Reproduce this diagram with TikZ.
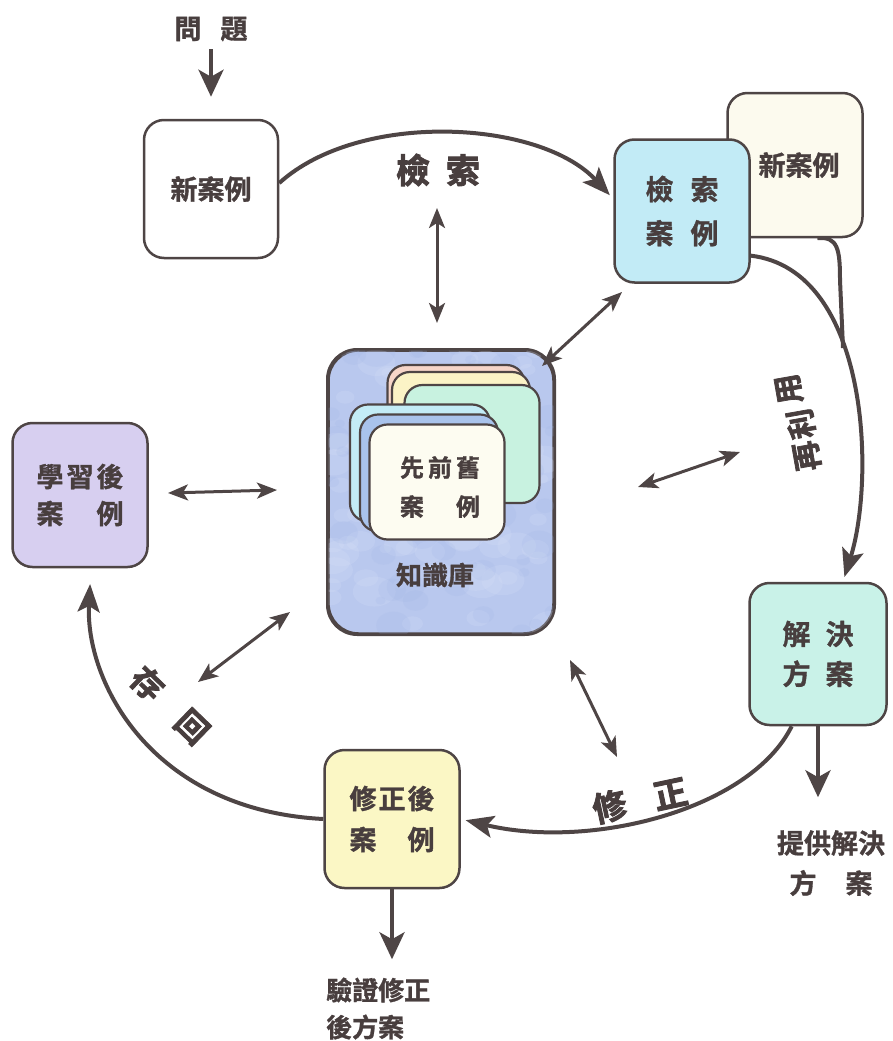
\documentclass[tikz,border=0pt]{standalone}
\usepackage{fontspec}
\newfontfamily\cjk{Noto Sans CJK TC Bold}[FakeBold=1.2]
\newfontfamily\cjkheavy{Noto Sans CJK TC Bold}[FakeBold=2.5]
\usetikzlibrary{arrows.meta}

\definecolor{ink}{HTML}{483E3E}
\definecolor{edge}{HTML}{4E4545}
\definecolor{newback}{HTML}{FCFAEE}
\definecolor{retrfill}{HTML}{C2EBF6}
\definecolor{solfill}{HTML}{C9F2E8}
\definecolor{revfill}{HTML}{FBF7C5}
\definecolor{learnfill}{HTML}{D7CFF0}
\definecolor{kbfill}{HTML}{B9C8EE}
\definecolor{kblight}{HTML}{D4DDF6}
\definecolor{kbdark}{HTML}{A4B8E6}
\definecolor{cardpink}{HTML}{F6D5C8}
\definecolor{cardyellow}{HTML}{FBF3C6}
\definecolor{cardgreen}{HTML}{C8F2E0}
\definecolor{cardcyan}{HTML}{C3ECF6}
\definecolor{cardblue}{HTML}{A9C3EC}
\definecolor{cardfront}{HTML}{FDFCF1}

\begin{document}
\begin{tikzpicture}[x=1pt,y=-1pt,
  casebox/.style={draw=edge, line width=2.5pt, rounded corners=20pt, inner sep=0pt,
    text=ink, align=center, font=\cjk\fontsize{27}{40}\selectfont},
  card/.style={draw=edge, line width=2.2pt, rounded corners=18pt, inner sep=0pt},
  flow/.style={draw=edge, line width=4pt, shorten >=5pt,
    -{Stealth[length=28pt,width=22pt,inset=6pt]}},
  outarrow/.style={draw=edge, line width=4pt, -{Stealth[length=27pt,width=25pt,inset=7pt]}},
  link/.style={draw=edge, line width=3pt,
    {Stealth[length=20pt,width=16pt,inset=5pt]}-{Stealth[length=20pt,width=16pt,inset=5pt]}},
  stage/.style={text=ink, inner sep=0pt, font=\cjkheavy\fontsize{34}{34}\selectfont},
  caption/.style={text=ink, inner sep=0pt, font=\cjk\fontsize{27}{27}\selectfont},
]
\useasboundingbox (0,0) rectangle (892,1041);

% ---- the five case boxes ----
\node[casebox, fill=white, minimum width=134pt, minimum height=138pt] (newL) at (211,189) {新案例};
\node[casebox, fill=newback, minimum width=135pt, minimum height=144pt] (newR) at (795,165) {\hspace{8pt}新案例};
\node[casebox, fill=retrfill, minimum width=135pt, minimum height=143pt, font=\cjk\fontsize{28}{44}\selectfont]
  (retr) at (682,211) {檢\hspace{17pt}索\\案\hspace{17pt}例};
\node[casebox, fill=learnfill, minimum width=135pt, minimum height=144pt, font=\cjk\fontsize{27}{37}\selectfont]
  (learn) at (80,495) {學\hspace{3pt}習\hspace{3pt}後\\案\hspace{33pt}例};
\node[casebox, fill=solfill, minimum width=137pt, minimum height=142pt, font=\cjk\fontsize{28}{40}\selectfont]
  (sol) at (818,654) {解\hspace{15pt}決\\方\hspace{15pt}案};
\node[casebox, fill=revfill, minimum width=135pt, minimum height=138pt, font=\cjk\fontsize{27}{41}\selectfont]
  (rev) at (392,819) {修\hspace{2pt}正\hspace{2pt}後\\案\hspace{31pt}例};

% ---- knowledge base with its stack of stored cases ----
\node[draw=edge, line width=2.5pt, rounded corners=30pt, minimum width=225pt, minimum height=283pt,
  fill=kbfill] (kb) at (441,492) {};
\begin{scope}
  \clip[rounded corners=30pt] (kb.south west) rectangle (kb.north east);
  \pgfmathsetseed{11}
  \foreach \i in {1,...,90} {
    \pgfmathsetmacro\xx{330+225*rnd}
    \pgfmathsetmacro\yy{350+283*rnd}
    \pgfmathsetmacro\ra{6+16*rnd}
    \fill[kblight, opacity=0.25] (\xx,\yy) ellipse ({\ra} and {0.7*\ra});
  }
  \foreach \i in {1,...,60} {
    \pgfmathsetmacro\xx{330+225*rnd}
    \pgfmathsetmacro\yy{350+283*rnd}
    \pgfmathsetmacro\ra{5+14*rnd}
    \fill[kbdark, opacity=0.2] (\xx,\yy) ellipse ({\ra} and {0.8*\ra});
  }
\end{scope}
\draw[edge, line width=2.5pt, rounded corners=30pt] (kb.south west) rectangle (kb.north east);

\node[card, fill=cardpink, minimum width=137pt, minimum height=130pt] (c1) at (456,430) {};
\node[card, fill=cardyellow, minimum width=138pt, minimum height=126pt] (c2) at (461,435) {};
\node[card, fill=cardgreen, minimum width=135pt, minimum height=118pt] (c3) at (472,444) {};
\node[card, fill=cardcyan, minimum width=140pt, minimum height=117pt] (c4) at (420,463) {};
\node[card, fill=cardblue, minimum width=138pt, minimum height=117pt] (c5) at (429,473) {};
\node[card, fill=cardfront, minimum width=135pt, minimum height=115pt] (c6) at (437,482) {};
\node[text=ink, inner sep=0pt, align=center, font=\cjk\fontsize{24}{39}\selectfont]
  (oldtxt) at (440,487) {先\hspace{4pt}前\hspace{4pt}舊\\案\hspace{32pt}例};
\node[text=ink, inner sep=0pt, font=\cjk\fontsize{26}{26}\selectfont] (kbname) at (435,575) {知識庫};

% ---- the four stages of the cycle ----
\draw[flow] (newL.5) .. controls (360,110) and (540,120) .. (retr.170);
\draw[flow] (retr.-33) .. controls (870,270) and (875,480) .. (sol.71);
\coordinate (merge) at (843,348);
\draw[edge, line width=4pt] (newR.-73) .. controls (838,236) and (840,250) .. (840,280) -- (merge);
\draw[flow] (sol.-110) .. controls (750,810) and (590,850) .. (rev.east);
\coordinate (learnIn) at (91,567);
\draw[flow, shorten >=17pt] (rev.west) .. controls (150,810) and (85,680) .. (learnIn);

\node[stage] (sRetr) at (438,170) {檢\hspace{16pt}索};
\node[stage, rotate=100, font=\cjkheavy\fontsize{30}{30}\selectfont] (sReuse1) at (807,456) {再};
\node[stage, rotate=100, font=\cjkheavy\fontsize{30}{30}\selectfont] (sReuse2) at (801,424) {利};
\node[stage, rotate=100, font=\cjkheavy\fontsize{30}{30}\selectfont] (sReuse3) at (789,389) {用};
\node[stage, rotate=12] (sRevise) at (640,800) {修\hspace{28pt}正};
\node[stage, rotate=-44, font=\cjkheavy\fontsize{32}{32}\selectfont] (sRetain) at (170,705) {存\hspace{30pt}回};

% ---- exchanges with the knowledge base ----
\coordinate (a1) at (437,208); \coordinate (b1) at (437,323);
\coordinate (a2) at (542,366); \coordinate (b2) at (622,292);
\coordinate (a3) at (168,493); \coordinate (b3) at (277,490);
\coordinate (a4) at (638,487); \coordinate (b4) at (740,452);
\coordinate (a5) at (198,682); \coordinate (b5) at (290,612);
\coordinate (a6) at (570,660); \coordinate (b6) at (617,757);
\draw[link] (a1) -- (b1);
\draw[link] (a2) -- (b2);
\draw[link] (a3) -- (b3);
\draw[link] (a4) -- (b4);
\draw[link] (a5) -- (b5);
\draw[link] (a6) -- (b6);

% ---- input and outputs ----
\node[caption] (prob) at (211,29) {問\hspace{19pt}題};
\draw[outarrow] ([yshift=-8pt]prob.south) -- ([yshift=22pt]newL.north);

\draw[outarrow] (sol.south) -- ++(0,71);
\node[caption] (solcap1) at (831,843) {提供解決};
\node[caption] (solcap2) at (831,883) {方\hspace{29pt}案};

\draw[outarrow] (rev.south) -- ++(0,70);
\node[caption, anchor=west, font=\cjk\fontsize{26}{26}\selectfont] (revcap1) at (326,990) {驗證修正};
\node[caption, anchor=west, font=\cjk\fontsize{26}{26}\selectfont] (revcap2) at (326,1027) {後方案};
\end{tikzpicture}
\end{document}
